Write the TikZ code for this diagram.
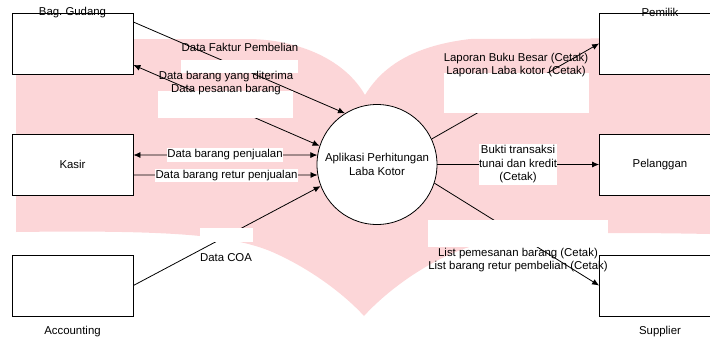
\documentclass[tikz,border=0pt]{standalone}
\usepackage{fontspec}
\setmainfont{Liberation Sans}
\usetikzlibrary{arrows.meta, positioning, backgrounds}
\definecolor{clrBook}{HTML}{FCD6D8}
\tikzset{
  entity/.style = {rectangle, draw, fill=white, line width=0.8pt, minimum width=121pt,
                   minimum height=61pt, inner sep=0pt, font=\fontsize{11.4}{13.5}\selectfont},
  process/.style = {circle, draw, fill=white, line width=0.8pt, minimum size=120pt,
                    inner sep=0pt, align=center, font=\fontsize{11.4}{13.5}\selectfont},
  flowtxt/.style = {font=\fontsize{11.4}{13.5}\selectfont, align=center, inner sep=1pt},
  tagbox/.style = {flowtxt, fill=white, inner xsep=0.5pt, inner ysep=1.5pt},
  patch/.style = {rectangle, fill=white, inner sep=0pt},
  flow/.style = {-{Latex[length=7pt, width=6pt]}, line width=0.8pt},
  bflow/.style = {{Latex[length=7pt, width=6pt]}-{Latex[length=7pt, width=6pt]}, line width=0.8pt},
}

\begin{document}
\begin{tikzpicture}[x=1pt, y=-1pt]
  \useasboundingbox (0,0) rectangle (710,338);
  \clip (0,0) rectangle (710,338);
  % column / row centres
  \def\colL{72.5}
  \def\colR{660}
  \def\rowA{43.5}
  \def\rowB{164.5}
  \def\rowC{285.5}

  % --- Book shape behind everything ---
  \begin{scope}[on background layer]
    \fill[clrBook] (16,39) -- (250,39) .. controls (300,40) and (345,60) .. (365,95)
      .. controls (385,62) and (420,45) .. (470,39) -- (710,38) -- (710,234)
      .. controls (560,231) and (498,235) .. (458,251)
      .. controls (418,267) and (383,295) .. (364,316)
      .. controls (345,295) and (310,268) .. (270,251)
      .. controls (230,235) and (170,230) .. (16,232) -- cycle;
  \end{scope}

  % --- Entities ---
  \node[entity] at (\colL, \rowA) (gudang) {};
  \node[entity] at (\colL, \rowB) (kasir) {Kasir};
  \node[entity] at (\colL, \rowC) (acc) {};
  \node[entity] at (\colR, \rowA) (pemilik) {};
  \node[entity] at (\colR, \rowB) (pelanggan) {Pelanggan};
  \node[entity] at (\colR, \rowC) (supplier) {};

  \node[flowtxt] at (gudang.north) (gudangLbl) {Bag.\ Gudang};
  \node[flowtxt] at (pemilik.north) (pemilikLbl) {Pemilik};
  \node[flowtxt] at (\colL, 332) (accLbl) {Accounting};
  \node[flowtxt] at (\colR, 332) (supplierLbl) {Supplier};

  % --- Process ---
  \node[process] at (377, 164.5) (app) {Aplikasi Perhitungan\\Laba Kotor};

  % --- Flows ---
  \draw[flow] ([yshift=21.5pt] gudang.east) -- (app.122);
  \draw[bflow] (app.162) -- ([yshift=-21.5pt] gudang.east);
  \draw[bflow] ([yshift=9.5pt] kasir.east) -- (app.171);
  \draw[flow] ([yshift=-10.5pt] kasir.east) -- (app.190);
  \draw[flow] (acc.east) -- (app.201);
  \draw[flow] (app.25) -- (pemilik.west);
  \draw[flow] (app.east) -- (pelanggan.west);
  \draw[flow] (app.342) -- (supplier.west);

  % --- White patches over the flows ---
  \node[patch, minimum width=117pt, minimum height=13pt] at (239.5, 66.5) (patchA) {};
  \node[patch, minimum width=135pt, minimum height=27pt] at (225.5, 104.5) (patchB) {};
  \node[patch, minimum width=53pt, minimum height=14pt] at (226.5, 235) (patchC) {};
  \node[patch, minimum width=145pt, minimum height=40pt] at (516.5, 93) (patchD) {};
  \node[patch, minimum width=180pt, minimum height=27pt] at (518, 233.5) (patchE) {};

  % --- Flow labels ---
  \node[flowtxt] at (240, 47) (lblFaktur) {Data Faktur Pembelian};
  \node[flowtxt] at (226, 83) (lblGudang) {Data barang yang diterima\\Data pesanan barang};
  \node[tagbox] at (225, 155) (lblJual) {Data barang penjualan};
  \node[tagbox] at (226.5, 175.5) (lblRetur) {Data barang retur penjualan};
  \node[flowtxt] at (226, 258) (lblCoa) {Data COA};
  \node[flowtxt] at (516, 65) (lblLaporan) {Laporan Buku Besar (Cetak)\\Laporan Laba kotor (Cetak)};
  \node[tagbox] at (518, 164.5) (lblBukti) {Bukti transaksi\\tunai dan kredit\\(Cetak)};
  \node[flowtxt] at (518, 260) (lblList) {List pemesanan barang (Cetak)\\List barang retur pembelian (Cetak)};
\end{tikzpicture}
\end{document}
